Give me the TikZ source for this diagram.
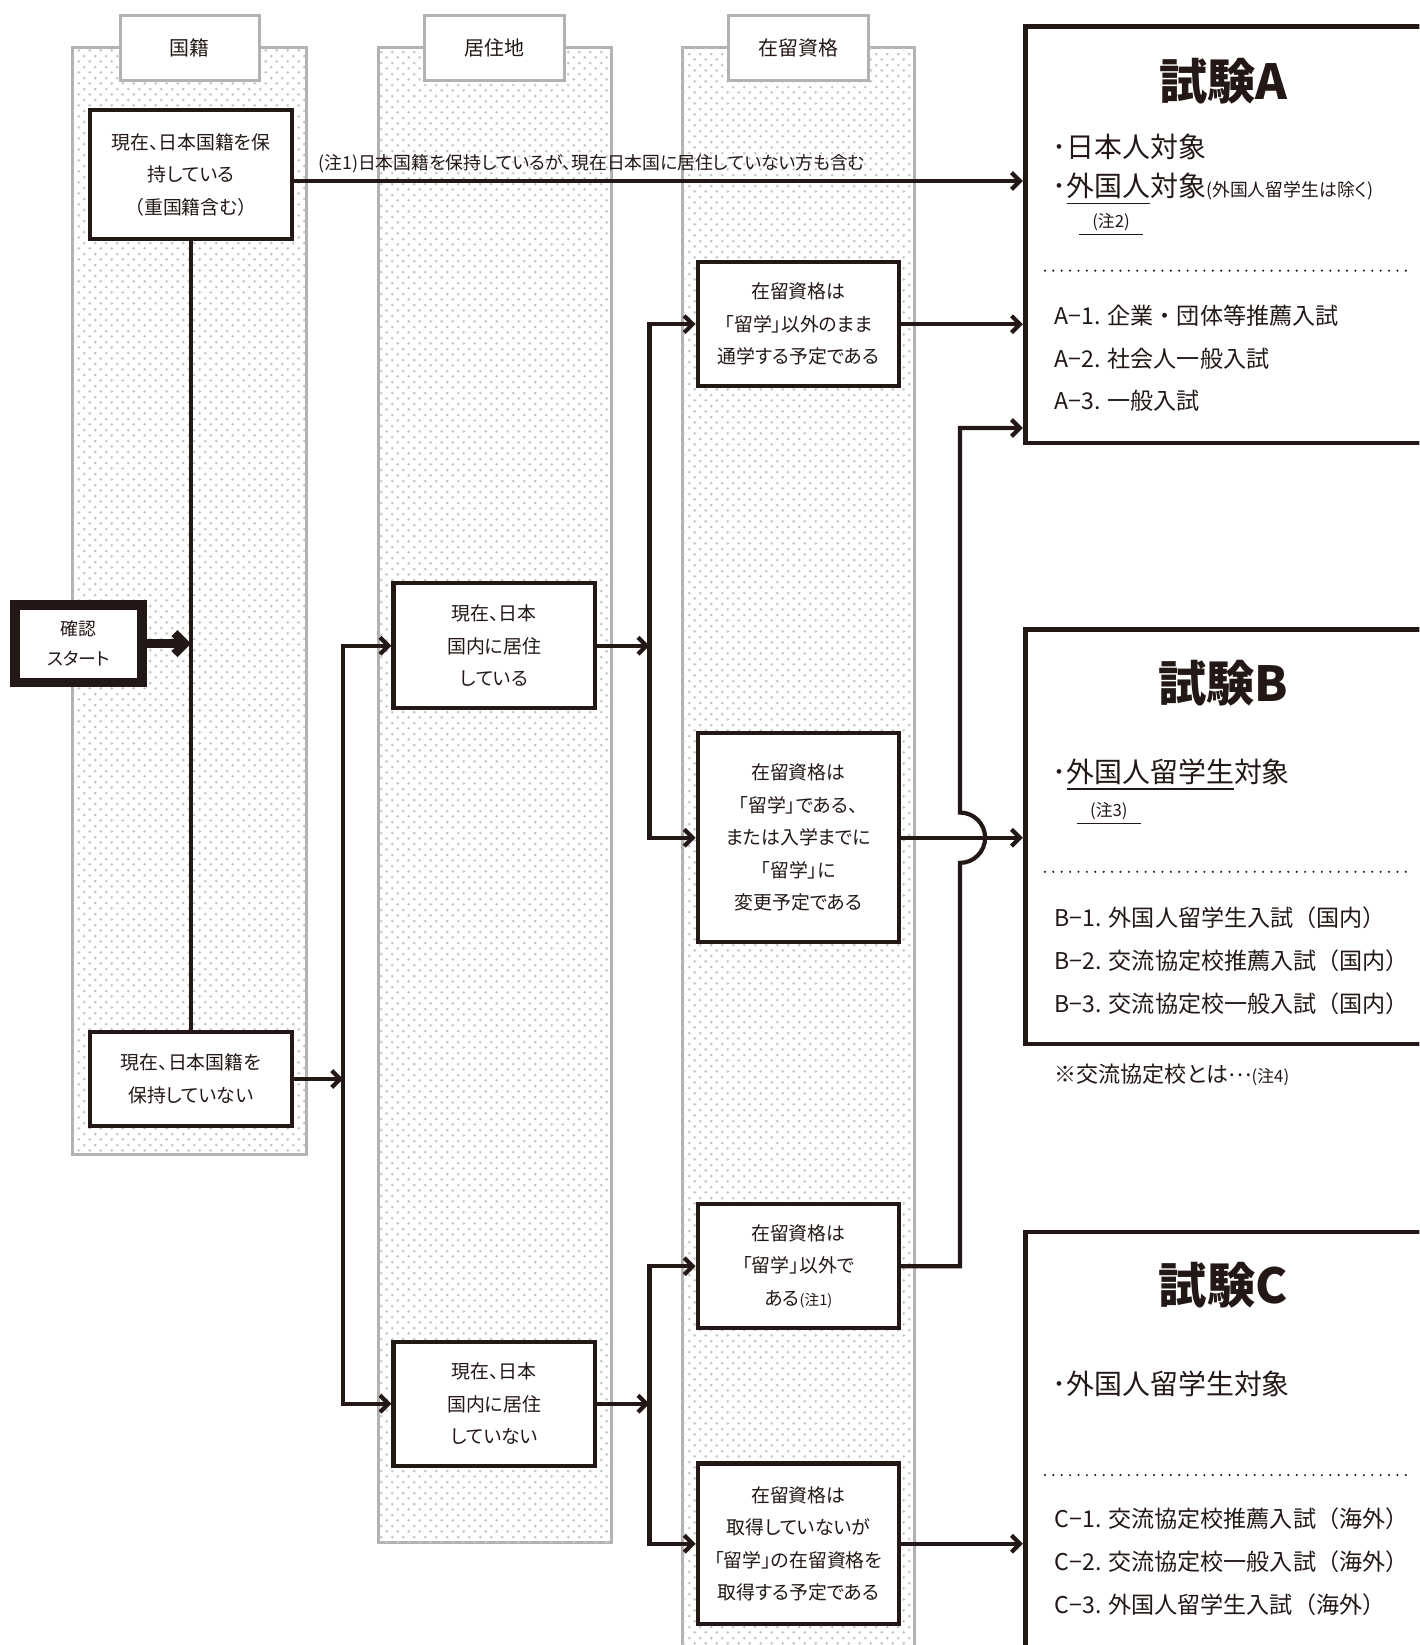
\documentclass[tikz,border=0pt]{standalone}
\usepackage{fontspec}
\setmainfont{Noto Sans CJK JP}[RawFeature=+palt]
\newfontfamily\fullwidth{Noto Sans CJK JP}
\usetikzlibrary{arrows.meta,patterns.meta}
\definecolor{ink}{HTML}{231815}
\newcommand{\undl}[1] % {texte souligne}
{\setbox0=\hbox{#1}\rlap{\rule[-3.5pt]{\wd0}{0.6pt}}\box0}
\tikzdeclarepattern{
	name=lanedots,
	type=uncolored,
	bottom left={(0pt,0pt)},
	top right={(5.24pt,5.34pt)},
	tile size={(5.24pt,5.34pt)},
	code={
		\pgfpathcircle{\pgfpoint{1.31pt}{1.335pt}}{0.72pt}
		\pgfpathcircle{\pgfpoint{3.93pt}{4.005pt}}{0.72pt}
		\pgfusepath{fill}
	}
}
\tikzset{
	lane/.style={draw=black!30, line width=1.5pt, fill=white, postaction={pattern=lanedots, pattern color=black!22}},
	lanehead/.style={draw=black!30, line width=1.5pt, fill=white, minimum width=66.5pt, minimum height=31pt, text=ink, font=\fontsize{9.5}{11}\selectfont},
	stepbox/.style={draw=ink, line width=2pt, fill=white, align=center, inner sep=0pt, minimum width=96pt, text=ink, font=\fontsize{9}{15.5}\selectfont},
	startbox/.style={draw=ink, line width=4.5pt, fill=white, align=center, inner sep=0pt, minimum width=60.5pt, minimum height=37pt, text=ink, font=\fontsize{8.5}{14.5}\selectfont},
	exambox/.style={draw=ink, line width=2.25pt, fill=white, anchor=north west, inner sep=0pt, minimum width=240pt},
	examtitle/.style={text=ink, font=\fontsize{23}{25}\bfseries},
	target/.style={anchor=west, inner sep=0pt, text=ink, font=\fontsize{13.3}{15}\selectfont},
	examitem/.style={anchor=west, inner sep=0pt, text=ink, font=\fullwidth\fontsize{11}{13}\selectfont},
	noteul/.style={inner xsep=6pt, inner ysep=1.5pt, text=ink, font=\fontsize{8}{9}\selectfont},
	sep/.style={ink, line width=1.1pt, line cap=round, dash pattern=on 0pt off 4pt},
	line/.style={draw=ink, line width=2pt},
	arr/.style={line, -{Straight Barb[length=4pt,width=8pt]}},
	arrtwo/.style={line, {Straight Barb[length=4pt,width=8pt]}-{Straight Barb[length=4pt,width=8pt]}},
	bigarr/.style={draw=ink, line width=4pt, -{Straight Barb[length=5pt,width=10pt]}}
}
\begin{document}
\begin{tikzpicture}[x=0.5pt,y=-0.5pt]
	\clip (0,0) rectangle (1353,1568);

	% colonnes
	\draw[lane] (69.5,45.5) rectangle (292.5,1100.5);
	\draw[lane] (360.5,45.5) rectangle (582.5,1470.5);
	\draw[lane] (650.5,45.5) rectangle (871.5,1620);
	\node[lanehead] (hNat) at (181,45.5) {国籍};
	\node[lanehead] (hRes) at (471.5,45.5) {居住地};
	\node[lanehead] (hVisa) at (761,45.5) {在留資格};

	% etapes
	\node[stepbox, minimum height=61.5pt] (nat1) at (182,166.5) {現在、日本国籍を保\\持している\\（重国籍含む）};
	\node[startbox] (start) at (75,613.5) {確認\\スタート};
	\node[stepbox, minimum height=44.5pt] (nat2) at (182,1028.5) {現在、日本国籍を\\保持していない};
	\node[stepbox, minimum height=59.5pt] (res1) at (471,615.5) {現在、日本\\国内に居住\\している};
	\node[stepbox, minimum height=59pt] (res2) at (471,1338) {現在、日本\\国内に居住\\していない};
	\node[stepbox, minimum height=59pt] (visa1) at (761,309) {在留資格は\\「留学」以外のまま\\通学する予定である};
	\node[stepbox, minimum height=99.5pt] (visa2) at (761,798.5) {在留資格は\\「留学」である、\\または入学までに\\「留学」に\\変更予定である};
	\node[stepbox, minimum height=59pt] (visa3) at (761,1207) {在留資格は\\「留学」以外で\\ある{\fontsize{7}{8}\selectfont(注1)}};
	\node[stepbox, minimum height=76.5pt] (visa4) at (761,1471.5) {在留資格は\\取得していないが\\「留学」の在留資格を\\取得する予定である};

	% examens
	\node[exambox, minimum height=198.5pt] (exA) at (975,23) {};
	\node[exambox, minimum height=197.5pt] (exB) at (975,598) {};
	\node[exambox, minimum height=240pt] (exC) at (975,1172) {};

	\node[examtitle] (titleA) at (1166,77) {試験A};
	\node[target] (tgtA1) at (1003,140) {･日本人対象};
	\node[target] (tgtA2) at (1003,180) {･\undl{外国人}対象{\fontsize{8.5}{9}\selectfont(外国人留学生は除く)}};
	\node[noteul] (noteA) at (1059,212) {(注2)};
	\draw[ink, line width=0.6pt] (noteA.south west) -- (noteA.south east);
	\draw[sep] (996,258) -- (1342,258);
	\node[examitem] (itemA1) at (1005,301) {A−1. 企業・団体等推薦入試};
	\node[examitem] (itemA2) at (1005,342) {A−2. 社会人一般入試};
	\node[examitem] (itemA3) at (1005,382) {A−3. 一般入試};

	\node[examtitle] (titleB) at (1166,651) {試験B};
	\node[target] (tgtB1) at (1003,738) {･\undl{外国人留学生}対象};
	\node[noteul] (noteB) at (1057,773) {(注3)};
	\draw[ink, line width=0.6pt] (noteB.south west) -- (noteB.south east);
	\draw[sep] (996,831) -- (1342,831);
	\node[examitem] (itemB1) at (1005,875) {B−1. 外国人留学生入試（国内）};
	\node[examitem] (itemB2) at (1005,916) {B−2. 交流協定校推薦入試（国内）};
	\node[examitem] (itemB3) at (1005,957) {B−3. 交流協定校一般入試（国内）};
	\node[anchor=west, inner sep=0pt, text=ink, font=\fontsize{10.5}{12}\selectfont] (footB) at (1005,1025) {※交流協定校とは\raisebox{3pt}{…}{\fontsize{8}{9}\selectfont (注4)}};

	\node[examtitle] (titleC) at (1166,1225) {試験C};
	\node[target] (tgtC1) at (1003,1319) {･外国人留学生対象};
	\draw[sep] (996,1406) -- (1342,1406);
	\node[examitem] (itemC1) at (1005,1448) {C−1. 交流協定校推薦入試（海外）};
	\node[examitem] (itemC2) at (1005,1489) {C−2. 交流協定校一般入試（海外）};
	\node[examitem] (itemC3) at (1005,1530) {C−3. 外国人留学生入試（海外）};

	% fleches
	\draw[line] (nat1.south) -- (nat2.north);
	\draw[bigarr] (start.east) -- (start.east -| nat1.south);
	\draw[arr] ([yshift=-3pt]nat1.east) -- ([yshift=-3pt]nat1.east -| exA.west);
	\node[anchor=west, inner sep=0pt, text=ink, font=\fontsize{8.5}{9}\selectfont] (note1) at (303,156) {(注1)日本国籍を保持しているが、現在日本国に居住していない方も含む};

	\coordinate (jNat) at (327,1028.5);
	\draw[arr] (nat2.east) -- (jNat);
	\draw[arrtwo] (res1.west) -| (jNat) |- (res2.west);

	\coordinate (jRes1) at (619,615.5);
	\draw[arr] (res1.east) -- (jRes1);
	\draw[arrtwo] (visa1.west) -| (jRes1) |- (visa2.west);
	\coordinate (jRes2) at (619,1338);
	\draw[arr] (res2.east) -- (jRes2);
	\draw[arrtwo] (visa3.west) -| (jRes2) |- (visa4.west);

	\draw[arr] (visa1.east) -- (visa1.east -| exA.west);
	\draw[arr] (visa2.east) -- (visa2.east -| exB.west);
	\draw[arr] (visa4.east) -- (visa4.east -| exC.west);
	\coordinate (hopB) at (915,822.5);
	\coordinate (upA) at (915,408);
	\draw[arr] (visa3.east) -| (hopB) arc[start angle=90, end angle=-90, radius=24] -- (upA) -- (upA -| exA.west);
\end{tikzpicture}
\end{document}
